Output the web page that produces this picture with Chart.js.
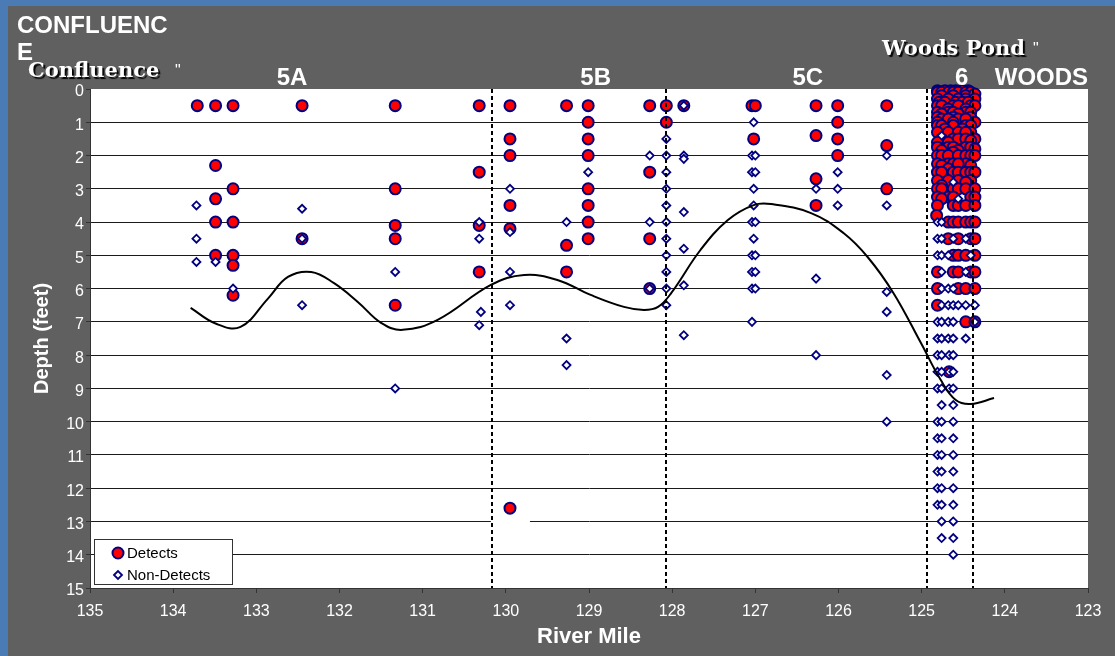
<!DOCTYPE html>
<html>
<head>
<meta charset="utf-8">
<title>Depth profile by river mile</title>
<script src="https://cdn.jsdelivr.net/npm/chart.js@4.4.1/dist/chart.umd.min.js"></script>
<style>
	html, body { margin: 0; padding: 0; background: #4b7bb4; }
	#frame { position: absolute; left: 8px; top: 6px; width: 1107px; height: 650px; background: #606060; }
	#wrap { position: absolute; left: 0; top: 0; width: 1115px; height: 656px; }
</style>
</head>
<body>
<div id="frame"></div>
<div id="wrap"><canvas id="depthChart" width="1115" height="656"></canvas></div>
<script>
// Sample depths (feet) by river mile, [mile, depth]
const reach5aDetects = [
	[133.71, 0.5], [133.49, 0.5], [133.28, 0.5], [132.45, 0.5], [131.33, 0.5],
	[133.49, 2.3], [133.28, 3.0], [133.49, 3.3], [133.49, 4.0], [133.28, 4.0],
	[133.49, 5.0], [133.28, 5.0], [133.28, 5.3], [133.28, 6.2], [132.45, 4.5],
	[131.33, 3.0], [131.33, 4.1], [131.33, 4.5], [131.33, 6.5],
	[130.32, 0.5], [130.32, 2.5], [130.32, 4.1], [130.32, 5.5]
];
const reach5bDetects = [
	[129.95, 0.5], [129.95, 1.5], [129.95, 2.0], [129.95, 3.5], [129.95, 4.2], [129.95, 12.6],
	[129.27, 0.5], [129.27, 4.7], [129.27, 5.5],
	[129.01, 0.5], [129.01, 1.0], [129.01, 1.5], [129.01, 2.0], [129.01, 3.0], [129.01, 3.5], [129.01, 4.0], [129.01, 4.5],
	[128.27, 0.5], [128.27, 2.5], [128.27, 4.5], [128.27, 6.0],
	[128.07, 0.5], [128.07, 1.0]
];
const reach5cDetects = [
	[127.86, 0.5], [127.04, 0.5], [127.0, 0.5], [127.02, 1.5],
	[126.27, 0.5], [126.27, 1.4], [126.27, 2.7], [126.27, 3.5],
	[126.01, 0.5], [126.01, 1.0], [126.01, 1.5], [126.01, 2.0],
	[125.42, 0.5], [125.42, 1.7], [125.42, 3.0]
];
const pondDetects = [
	[124.81, 0.05], [124.72, 0.05], [124.65, 0.05], [124.59, 0.05], [124.51, 0.05], [124.44, 0.05],
	[124.81, 0.1], [124.76, 0.1], [124.68, 0.1], [124.62, 0.1], [124.56, 0.1], [124.47, 0.1], [124.41, 0.1],
	[124.76, 0.2], [124.62, 0.2], [124.47, 0.2], [124.36, 0.15],
	[124.81, 0.3], [124.68, 0.3], [124.56, 0.3], [124.47, 0.3], [124.36, 0.3],
	[124.79, 0.4], [124.72, 0.4], [124.59, 0.4], [124.51, 0.4], [124.44, 0.4],
	[124.81, 0.5], [124.76, 0.5], [124.62, 0.5], [124.56, 0.5], [124.41, 0.5], [124.36, 0.5],
	[124.68, 0.6], [124.47, 0.6],
	[124.81, 0.7], [124.68, 0.7], [124.62, 0.7], [124.47, 0.7], [124.41, 0.7],
	[124.76, 0.75], [124.56, 0.75], [124.81, 0.85], [124.62, 0.85], [124.41, 0.85],
	[124.76, 0.9], [124.68, 0.9], [124.56, 0.9], [124.47, 0.9], [124.36, 1.0],
	[124.81, 1.0], [124.62, 1.0],
	[124.81, 1.1], [124.76, 1.1], [124.62, 1.1], [124.47, 1.1], [124.41, 1.1],
	[124.72, 1.2], [124.51, 1.2],
	[124.81, 1.3], [124.68, 1.3], [124.56, 1.3], [124.41, 1.3], [124.47, 1.3], [124.36, 1.5],
	[124.76, 1.5], [124.62, 1.5], [124.56, 1.5], [124.47, 1.5],
	[124.81, 1.6], [124.68, 1.6], [124.41, 1.55],
	[124.81, 1.75], [124.68, 1.75], [124.62, 1.75], [124.47, 1.75], [124.41, 1.75],
	[124.76, 1.85], [124.56, 1.85], [124.62, 1.9], [124.36, 1.8],
	[124.81, 2.0], [124.76, 2.0], [124.68, 2.0], [124.56, 2.0], [124.47, 2.0], [124.41, 2.0], [124.36, 2.0],
	[124.81, 2.25], [124.68, 2.25], [124.62, 2.25], [124.47, 2.25], [124.76, 2.3], [124.56, 2.25], [124.41, 2.3],
	[124.68, 2.4],
	[124.81, 2.5], [124.76, 2.5], [124.62, 2.5], [124.56, 2.5], [124.47, 2.5], [124.41, 2.5], [124.36, 2.5],
	[124.81, 2.75], [124.68, 2.75], [124.56, 2.75], [124.41, 2.75], [124.47, 2.8],
	[124.76, 2.9],
	[124.81, 3.0], [124.76, 3.0], [124.62, 3.0], [124.56, 3.0], [124.47, 3.0], [124.36, 3.0],
	[124.81, 3.25], [124.68, 3.25], [124.62, 3.25], [124.41, 3.25], [124.76, 3.3], [124.36, 3.25],
	[124.81, 3.5], [124.62, 3.5], [124.56, 3.5], [124.47, 3.5], [124.36, 3.5],
	[124.82, 3.8],
	[124.68, 4.0], [124.62, 4.0], [124.56, 4.0], [124.47, 4.0], [124.41, 4.0], [124.36, 4.0],
	[124.68, 4.5], [124.56, 4.5], [124.41, 4.5], [124.36, 4.5],
	[124.62, 5.0], [124.56, 5.0], [124.47, 5.0], [124.36, 5.0],
	[124.81, 5.5], [124.62, 5.5], [124.56, 5.5], [124.41, 5.5], [124.36, 5.5],
	[124.81, 6.0], [124.56, 6.0], [124.47, 6.0], [124.36, 6.0],
	[124.81, 6.5],
	[124.47, 7.0], [124.36, 7.0],
	[124.67, 8.5]
];

const reach5aNonDetects = [
	[133.72, 3.5], [133.72, 4.5], [133.72, 5.2], [133.49, 5.2], [133.28, 6.0],
	[132.45, 3.6], [132.45, 4.5], [132.45, 6.5], [131.33, 5.5], [131.33, 9.0],
	[130.32, 4.0], [130.32, 4.5], [130.30, 6.7], [130.32, 7.1]
];
const reach5bNonDetects = [
	[129.95, 3.0], [129.95, 4.3], [129.95, 5.5], [129.95, 6.5],
	[129.27, 4.0], [129.27, 7.5], [129.27, 8.3], [129.01, 2.5],
	[128.27, 2.0], [128.27, 4.0], [128.27, 6.0],
	[128.07, 1.5], [128.07, 2.0], [128.07, 2.5], [128.07, 3.0], [128.07, 3.5], [128.07, 4.0],
	[128.07, 4.5], [128.07, 5.0], [128.07, 5.5], [128.07, 6.0], [128.07, 6.5]
];
const reach5cNonDetects = [
	[127.86, 0.5], [127.86, 2.0], [127.86, 2.1], [127.86, 3.7], [127.86, 4.8], [127.86, 5.9], [127.86, 7.4],
	[127.02, 1.0], [127.04, 2.0], [127.0, 2.0], [127.04, 2.5], [127.0, 2.5], [127.02, 3.0], [127.02, 3.5],
	[127.04, 4.0], [127.0, 4.0], [127.02, 4.5], [127.04, 5.0], [127.0, 5.0], [127.04, 5.5], [127.0, 5.5],
	[127.04, 6.0], [127.0, 6.0], [127.04, 7.0],
	[126.27, 3.0], [126.27, 5.7], [126.27, 8.0], [126.01, 2.5], [126.01, 3.0], [126.01, 3.5],
	[125.42, 2.0], [125.42, 3.5], [125.42, 6.1], [125.42, 6.7], [125.42, 8.6], [125.42, 10.0]
];
const pondNonDetects = [
	[124.76, 1.4], [124.62, 2.8], [124.56, 3.3],
	[124.81, 4.0], [124.76, 4.0],
	[124.81, 4.5], [124.76, 4.5], [124.62, 4.5], [124.47, 4.5],
	[124.81, 5.0], [124.76, 5.0], [124.68, 5.0], [124.41, 5.0],
	[124.76, 5.5], [124.47, 5.5],
	[124.76, 6.0], [124.68, 6.0], [124.62, 6.0],
	[124.76, 6.5], [124.68, 6.5], [124.62, 6.5], [124.56, 6.5], [124.47, 6.5], [124.36, 6.5],
	[124.81, 7.0], [124.76, 7.0], [124.68, 7.0], [124.62, 7.0], [124.36, 7.0],
	[124.81, 7.5], [124.76, 7.5], [124.68, 7.5], [124.62, 7.5], [124.47, 7.5],
	[124.81, 8.0], [124.76, 8.0], [124.67, 8.0], [124.62, 8.0],
	[124.81, 8.5], [124.76, 8.5], [124.67, 8.5], [124.62, 8.5],
	[124.81, 9.0], [124.76, 9.0], [124.67, 9.0], [124.62, 9.0],
	[124.76, 9.5], [124.62, 9.5],
	[124.81, 10.0], [124.76, 10.0], [124.62, 10.0],
	[124.81, 10.5], [124.76, 10.5], [124.62, 10.5],
	[124.81, 11.0], [124.76, 11.0], [124.62, 11.0],
	[124.81, 11.5], [124.76, 11.5], [124.62, 11.5],
	[124.81, 12.0], [124.76, 12.0], [124.62, 12.0],
	[124.81, 12.5], [124.76, 12.5], [124.62, 12.5],
	[124.76, 13.0], [124.62, 13.0],
	[124.76, 13.5], [124.62, 13.5],
	[124.62, 14.0]
];

// Smoothed depth trend along the river
const trendMiles = [133.79, 133.49, 133.19, 132.86, 132.62, 132.34, 132.07, 131.78, 131.50, 131.24,
	130.82, 130.18, 129.78, 129.38, 128.98, 128.58, 128.34, 128.17, 128.01, 127.66, 127.33,
	127.02, 126.81, 126.33, 125.94, 125.65, 125.34, 125.01, 124.77, 124.59, 124.41, 124.13];
const trendDepths = [6.58, 7.05, 7.15, 6.3, 5.65, 5.50, 5.83, 6.40, 7.03, 7.24,
	6.94, 5.89, 5.59, 5.74, 6.19, 6.55, 6.64, 6.55, 6.13, 4.84, 3.94,
	3.49, 3.46, 3.73, 4.33, 5.05, 6.13, 7.63, 8.75, 9.35, 9.47, 9.29];

// Reach boundaries (river mile)
const reachBoundaries = [130.17, 128.07, 124.94, 124.38];

const FONT = "'Liberation Sans', Arial, sans-serif";
const SERIF = "'DejaVu Serif', 'Liberation Serif', serif";

const toXY = (pairs) => pairs.map(([x, y]) => ({ x: x, y: y }));

const detects = [].concat(reach5aDetects, reach5bDetects, reach5cDetects, pondDetects);
const nonDetects = [].concat(reach5aNonDetects, reach5bNonDetects, reach5cNonDetects, pondNonDetects);
const trend = trendMiles.map((m, i) => ({ x: m, y: trendDepths[i] }));

// white plot background
const plotBackground = {
	id: "plotBackground",
	beforeDraw(chart) {
		const { ctx, chartArea: a } = chart;
		ctx.save();
		ctx.fillStyle = "#fff";
		ctx.fillRect(a.left, a.top, a.right - a.left, a.bottom - a.top);
		ctx.restore();
	},
};

// dashed lines between reaches, drawn over the points
const reachLines = {
	id: "reachLines",
	beforeDatasetsDraw(chart) {
		// gap in the 13 ft grid line
		const { ctx, scales } = chart;
		const y = scales.y.getPixelForValue(13);
		ctx.save();
		ctx.strokeStyle = "#fff";
		ctx.lineWidth = 3;
		ctx.beginPath();
		ctx.moveTo(scales.x.getPixelForValue(130.18), y);
		ctx.lineTo(scales.x.getPixelForValue(129.71), y);
		ctx.stroke();
		ctx.restore();
	},
	afterDatasetsDraw(chart) {
		const { ctx, chartArea, scales } = chart;
		ctx.save();
		ctx.strokeStyle = "#000";
		ctx.lineWidth = 2;
		ctx.setLineDash([4, 3]);
		reachBoundaries.forEach((m) => {
			const px = Math.round(scales.x.getPixelForValue(m));
			ctx.beginPath();
			ctx.moveTo(px, chartArea.top);
			ctx.lineTo(px, chartArea.bottom);
			ctx.stroke();
		});
		ctx.restore();
	},
};

// reach names and place names above the plot, plus the legend box
const reachLabels = [
	{ text: "5A", mile: 132.57 },
	{ text: "5B", mile: 128.92 },
	{ text: "5C", mile: 126.37 },
	{ text: "6", mile: 124.52 },
	{ text: "WOODS", mile: 123.56 },
];

const annotations = {
	id: "annotations",
	afterDraw(chart) {
		const { ctx, chartArea, scales } = chart;
		ctx.save();
		ctx.fillStyle = "#fff";
		ctx.font = "bold 24px " + FONT;
		ctx.textBaseline = "alphabetic";
		ctx.textAlign = "center";
		reachLabels.forEach((l) => {
			ctx.fillText(l.text, scales.x.getPixelForValue(l.mile), chartArea.top - 4);
		});
		ctx.textAlign = "left";
		ctx.fillText("CONFLUENC", 17, 33);
		ctx.fillText("E", 17, 60);

		// place names with drop shadow
		ctx.font = "bold 21px " + SERIF;
		ctx.shadowColor = "rgba(0,0,0,0.95)";
		ctx.shadowOffsetX = 2;
		ctx.shadowOffsetY = 2;
		ctx.shadowBlur = 1;
		ctx.fillText("Confluence", 28, 77);
		ctx.fillText("Woods Pond", 882, 55);
		ctx.shadowColor = "transparent";
		ctx.font = "16px " + FONT;
		ctx.fillText('"', 175, 76);
		ctx.fillText('"', 1033, 54);

		// legend
		const lx = chartArea.left + 4;
		const ly = chartArea.bottom - 49;
		ctx.fillStyle = "#fff";
		ctx.fillRect(lx, ly, 139, 46);
		ctx.strokeStyle = "#333";
		ctx.lineWidth = 1;
		ctx.strokeRect(lx + 0.5, ly + 0.5, 138, 45);

		ctx.fillStyle = "#ff0000";
		ctx.strokeStyle = "#000080";
		ctx.lineWidth = 2;
		Chart.helpers.drawPoint(ctx, { pointStyle: "circle", radius: 5.5, borderWidth: 2 }, lx + 24, ly + 14);
		ctx.fillStyle = "#fff";
		ctx.lineWidth = 1.8;
		Chart.helpers.drawPoint(ctx, { pointStyle: "rectRot", radius: 4, borderWidth: 1.8 }, lx + 24, ly + 36);

		ctx.fillStyle = "#000";
		ctx.font = "15px " + FONT;
		ctx.textBaseline = "middle";
		ctx.fillText("Detects", lx + 33, ly + 15);
		ctx.fillText("Non-Detects", lx + 33, ly + 37);
		ctx.restore();
	},
};

const ctx = document.getElementById("depthChart");

new Chart(ctx, {
	type: "scatter",
	data: {
		datasets: [
			{
				label: "Detects",
				data: toXY(detects),
				pointStyle: "circle",
				pointRadius: 5.5,
				pointBorderWidth: 2,
				backgroundColor: "#ff0000",
				borderColor: "#000080",
				order: 2,
				clip: false,
			},
			{
				label: "Non-Detects",
				data: toXY(nonDetects),
				pointStyle: "rectRot",
				pointRadius: 4,
				pointBorderWidth: 1.8,
				backgroundColor: "#fff",
				borderColor: "#000080",
				order: 1,
				clip: false,
			},
			{
				label: "Trend",
				type: "line",
				data: trend,
				borderColor: "#000",
				borderWidth: 2,
				pointRadius: 0,
				tension: 0.4,
				fill: false,
				order: 0,
				clip: false,
			},
		],
	},
	options: {
		responsive: false,
		animation: false,
		devicePixelRatio: 1,
		layout: { padding: { left: 0, top: 89, right: 27, bottom: 0 } },
		plugins: {
			legend: { display: false },
			tooltip: { enabled: false },
		},
		scales: {
			x: {
				type: "linear",
				reverse: true,
				min: 123,
				max: 135,
				ticks: {
					stepSize: 1,
					color: "#fff",
					font: { family: FONT, size: 16 },
					padding: 9,
				},
				grid: {
					drawOnChartArea: false,
					drawTicks: true,
					tickLength: 5,
					color: "#333",
				},
				border: { color: "#333", width: 1 },
				title: {
					display: true,
					text: "River Mile",
					color: "#fff",
					font: { family: FONT, size: 22, weight: "bold" },
					padding: { top: 0, bottom: 6 },
				},
				afterFit: (scale) => {
					scale.height = 68;
				},
			},
			y: {
				type: "linear",
				reverse: true,
				min: 0,
				max: 15,
				ticks: {
					stepSize: 1,
					color: "#fff",
					font: { family: FONT, size: 16 },
					padding: 2,
					labelOffset: 3,
				},
				grid: {
					color: (c) => (c.tick && c.tick.value === 0 ? "rgba(0,0,0,0)" : "#1a1a1a"),
					tickColor: "#333",
					tickLength: 4,
				},
				border: { color: "#333", width: 1 },
				title: {
					display: true,
					text: "Depth (feet)",
					color: "#fff",
					font: { family: FONT, size: 20, weight: "bold" },
					padding: { top: 30, bottom: 0 },
				},
				afterFit: (scale) => {
					scale.width = 90;
				},
			},
		},
	},
	plugins: [plotBackground, reachLines, annotations],
});
</script>
</body>
</html>
